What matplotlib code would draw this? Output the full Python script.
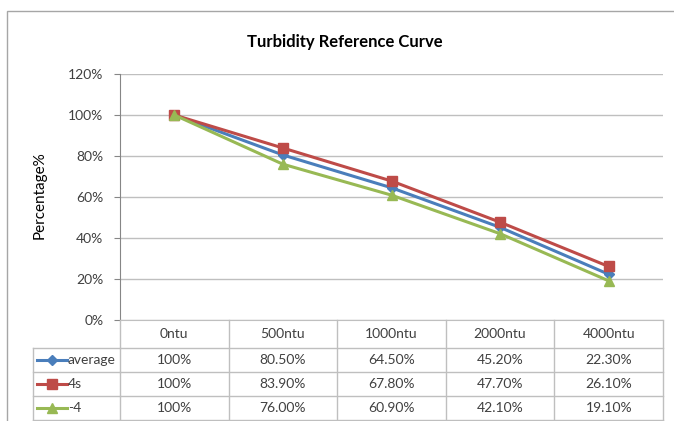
import numpy as np
import matplotlib.pyplot as plt
import matplotlib.transforms as mtransforms
from matplotlib.patches import Rectangle
from matplotlib.lines import Line2D

# ------------ DATA ------------
categories = ['0ntu', '500ntu', '1000ntu', '2000ntu', '4000ntu']
average = [100, 80.5, 64.5, 45.2, 22.3]
s4 = [100, 83.9, 67.8, 47.7, 26.1]
minus4 = [100, 76.0, 60.9, 42.1, 19.1]
series_names = ['average', '4s', '-4']
yticks = [0, 20, 40, 60, 80, 100, 120]

colors = ['#4a7ebb', '#be4b48', '#98b954']
markers = ['D', 's', '^']
msizes = [5, 7, 7]

# ------------ FIGURE ------------
plt.rcParams['font.family'] = ['Lato', 'DejaVu Sans']
W, H = 674, 421
fig = plt.figure(figsize=(W / 100, H / 100), dpi=100)

def fx(px):
    return px / W

def fy(py):
    return 1 - py / H

# chart border
fig.patches.append(Rectangle((fx(7), fy(430)), fx(700), 430 / H - 11 / H,
                             transform=fig.transFigure, fill=False,
                             edgecolor='#a6a6a6', lw=1))

ax = fig.add_axes([fx(120), fy(320), fx(663) - fx(120), fy(74) - fy(320)])
x = np.arange(len(categories))
all_series = [average, s4, minus4]
for vals, c, m, ms, name in zip(all_series, colors, markers, msizes, series_names):
    ax.plot(x, vals, color=c, marker=m, markersize=ms, lw=2.2, label=name)

ax.set_xlim(-0.5, len(categories) - 0.5)
ax.set_ylim(0, 120)
ax.set_yticks(yticks)
ax.set_yticklabels([f'{t}%' for t in yticks], fontsize=10, color='#404040')
ax.set_xticks([])
ax.grid(axis='y', color='#bfbfbf', lw=1)
ax.set_axisbelow(True)
for side in ['top', 'right']:
    ax.spines[side].set_visible(False)
ax.spines['left'].set_color('#868686')
ax.spines['bottom'].set_color('#bfbfbf')
ax.tick_params(axis='y', length=4, color='#868686', pad=8)

fig.text(fx(345), fy(42), 'Turbidity Reference Curve', ha='center', va='center',
         fontsize=12, fontweight='bold', color='black')
fig.text(fx(40), fy(195), 'Percentage%', rotation=90, ha='center', va='center',
         fontsize=11, color='black')

# ------------ DATA TABLE ------------
blend = mtransforms.blended_transform_factory(ax.transData, fig.transFigure)
line_c = '#bfbfbf'
row_edges = [320, 348, 372, 396, 420]
col_edges = np.arange(len(categories) + 1) - 0.5

def hline(x0, x1, py, trans=blend):
    fig.add_artist(Line2D([x0, x1], [fy(py), fy(py)], transform=trans,
                          color=line_c, lw=1))

def vline(xv, py0, py1, trans=blend):
    fig.add_artist(Line2D([xv, xv], [fy(py0), fy(py1)], transform=trans,
                          color=line_c, lw=1))

for py in row_edges[1:]:
    hline(col_edges[0], col_edges[-1], py)
    fig.add_artist(Line2D([fx(33), fx(120)], [fy(py), fy(py)],
                          transform=fig.transFigure, color=line_c, lw=1))
for xe in col_edges:
    vline(xe, row_edges[0], row_edges[-1])
fig.add_artist(Line2D([fx(33), fx(33)], [fy(348), fy(421)],
                      transform=fig.transFigure, color=line_c, lw=1))

hdr_y = fy((row_edges[0] + row_edges[1]) / 2)
for i, cat in enumerate(categories):
    fig.text(i, hdr_y, cat, transform=blend, ha='center', va='center',
             fontsize=10, color='#404040')

for r, (vals, c, m, name) in enumerate(zip(all_series, colors, markers, series_names)):
    cy = fy((row_edges[r + 1] + row_edges[r + 2]) / 2)
    fig.add_artist(Line2D([fx(37), fx(67)], [cy, cy], transform=fig.transFigure,
                          color=c, lw=2.2))
    fig.add_artist(Line2D([fx(52)], [cy], transform=fig.transFigure, color=c,
                          marker=m, markersize=msizes[r]))
    fig.text(fx(68), cy, name, ha='left', va='center', fontsize=10, color='#404040')
    for i, v in enumerate(vals):
        txt = '100%' if v == 100 else f'{v:.2f}%'
        fig.text(i, cy, txt, transform=blend, ha='center', va='center',
                 fontsize=10, color='#404040')

fig.savefig('out.png', dpi=100)
